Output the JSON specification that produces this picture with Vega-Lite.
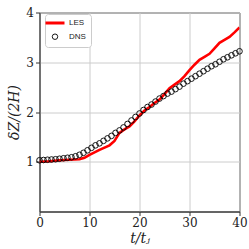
{
  "$schema": "https://vega.github.io/schema/vega-lite/v6.json",
  "width": 200,
  "height": 199,
  "autosize": {"type": "none"},
  "padding": {"left": 39.5, "top": 12.5, "right": 9.5, "bottom": 37.5},
  "background": "white",
  "config": {
    "view": {"stroke": "#333", "strokeWidth": 1},
    "axis": {
      "labelFont": "DejaVu Serif",
      "labelFontSize": 12,
      "labelColor": "#222",
      "labelFlush": false,
      "labelOverlap": false,
      "titleFont": "DejaVu Serif",
      "titleFontSize": 14,
      "titleFontStyle": "italic",
      "titleFontWeight": "normal",
      "titleColor": "#222",
      "gridColor": "#cccccc",
      "gridWidth": 1,
      "domainColor": "#333",
      "tickColor": "#333",
      "tickSize": 4
    }
  },
  "datasets": {
    "dns": [
      {"t": 0, "v": 1.03}, {"t": 0.8, "v": 1.035}, {"t": 1.6, "v": 1.04}, {"t": 2.4, "v": 1.045},
      {"t": 3.2, "v": 1.05}, {"t": 4.0, "v": 1.06}, {"t": 4.8, "v": 1.07}, {"t": 5.6, "v": 1.08},
      {"t": 6.4, "v": 1.09}, {"t": 7.2, "v": 1.11}, {"t": 8.0, "v": 1.14}, {"t": 8.8, "v": 1.18},
      {"t": 9.6, "v": 1.23}, {"t": 10.4, "v": 1.28}, {"t": 11.2, "v": 1.33}, {"t": 12.0, "v": 1.37},
      {"t": 12.8, "v": 1.42}, {"t": 13.6, "v": 1.47}, {"t": 14.4, "v": 1.52}, {"t": 15.2, "v": 1.58},
      {"t": 16.0, "v": 1.63}, {"t": 16.8, "v": 1.69}, {"t": 17.6, "v": 1.76}, {"t": 18.4, "v": 1.83},
      {"t": 19.2, "v": 1.9}, {"t": 20.0, "v": 1.97}, {"t": 20.8, "v": 2.04}, {"t": 21.6, "v": 2.1},
      {"t": 22.4, "v": 2.15}, {"t": 23.2, "v": 2.21}, {"t": 24.0, "v": 2.27}, {"t": 24.8, "v": 2.32},
      {"t": 25.6, "v": 2.37}, {"t": 26.4, "v": 2.41}, {"t": 27.2, "v": 2.46}, {"t": 28.0, "v": 2.51},
      {"t": 28.8, "v": 2.57}, {"t": 29.6, "v": 2.62}, {"t": 30.4, "v": 2.67}, {"t": 31.2, "v": 2.72},
      {"t": 32.0, "v": 2.77}, {"t": 32.8, "v": 2.82}, {"t": 33.6, "v": 2.87}, {"t": 34.4, "v": 2.92},
      {"t": 35.2, "v": 2.96}, {"t": 36.0, "v": 3.01}, {"t": 36.8, "v": 3.06}, {"t": 37.6, "v": 3.1},
      {"t": 38.4, "v": 3.14}, {"t": 39.2, "v": 3.18}, {"t": 40.0, "v": 3.22}
    ],
    "les": [
      {"t": 0, "v": 1.0}, {"t": 2, "v": 1.01}, {"t": 4, "v": 1.03}, {"t": 6, "v": 1.04},
      {"t": 8, "v": 1.05}, {"t": 9, "v": 1.08}, {"t": 10, "v": 1.14}, {"t": 12, "v": 1.24},
      {"t": 14, "v": 1.33}, {"t": 15, "v": 1.42}, {"t": 16, "v": 1.58}, {"t": 17, "v": 1.65},
      {"t": 18, "v": 1.71}, {"t": 19, "v": 1.81}, {"t": 20, "v": 1.93}, {"t": 21, "v": 2.03},
      {"t": 22, "v": 2.1}, {"t": 23, "v": 2.18}, {"t": 24, "v": 2.25}, {"t": 25, "v": 2.36},
      {"t": 26, "v": 2.48}, {"t": 27, "v": 2.55}, {"t": 28, "v": 2.62}, {"t": 29, "v": 2.72},
      {"t": 30, "v": 2.84}, {"t": 31, "v": 2.95}, {"t": 32, "v": 3.05}, {"t": 33, "v": 3.11},
      {"t": 34, "v": 3.17}, {"t": 35, "v": 3.28}, {"t": 36, "v": 3.39}, {"t": 37, "v": 3.45},
      {"t": 38, "v": 3.51}, {"t": 39, "v": 3.6}, {"t": 40, "v": 3.7}
    ]
  },
  "layer": [
    {
      "data": {"name": "les"},
      "transform": [{"calculate": "'LES'", "as": "series"}],
      "mark": {"type": "line", "strokeWidth": 2.6, "clip": true},
      "encoding": {
        "x": {"field": "t", "type": "quantitative",
          "scale": {"domain": [0, 40], "nice": false},
          "axis": {"values": [0, 10, 20, 30, 40], "title": "t/tⱼ", "titlePadding": 3}},
        "y": {"field": "v", "type": "quantitative",
          "scale": {"domain": [0, 4], "nice": false},
          "axis": {"values": [1, 2, 3, 4], "title": "δZ/(2H)", "titlePadding": 4}},
        "color": {"field": "series", "type": "nominal",
          "scale": {"domain": ["LES", "DNS"], "range": ["#ff0000", "#000000"]},
          "legend": {
            "title": null,
            "orient": "none",
            "legendX": 5.5,
            "legendY": 1.5,
            "padding": 5,
            "fillColor": "white",
            "strokeColor": "#cccccc",
            "cornerRadius": 3,
            "labelFont": "Liberation Sans",
            "labelFontSize": 8,
            "labelColor": "#222",
            "rowPadding": 2.7,
            "symbolOffset": 1,
            "labelOffset": 10,
            "symbolSize": 100,
            "symbolType": "circle",
            "encode": {
              "symbols": {
                "update": {
                  "shape": {"signal": "datum.value === 'LES' ? 'M-1,0H1' : 'circle'"},
                  "size": {"signal": "datum.value === 'LES' ? 361 : 30"},
                  "strokeWidth": {"signal": "datum.value === 'LES' ? 3 : 0.9"},
                  "stroke": {"signal": "datum.value === 'LES' ? '#ff0000' : '#000000'"},
                  "fill": {"value": "transparent"}
                }
              }
            }
          }}
      }
    },
    {
      "data": {"name": "dns"},
      "transform": [{"calculate": "'DNS'", "as": "series"}],
      "mark": {"type": "point", "filled": false, "size": 32, "strokeWidth": 0.9, "opacity": 1},
      "encoding": {
        "x": {"field": "t", "type": "quantitative"},
        "y": {"field": "v", "type": "quantitative"},
        "color": {"field": "series", "type": "nominal"}
      }
    }
  ]
}
